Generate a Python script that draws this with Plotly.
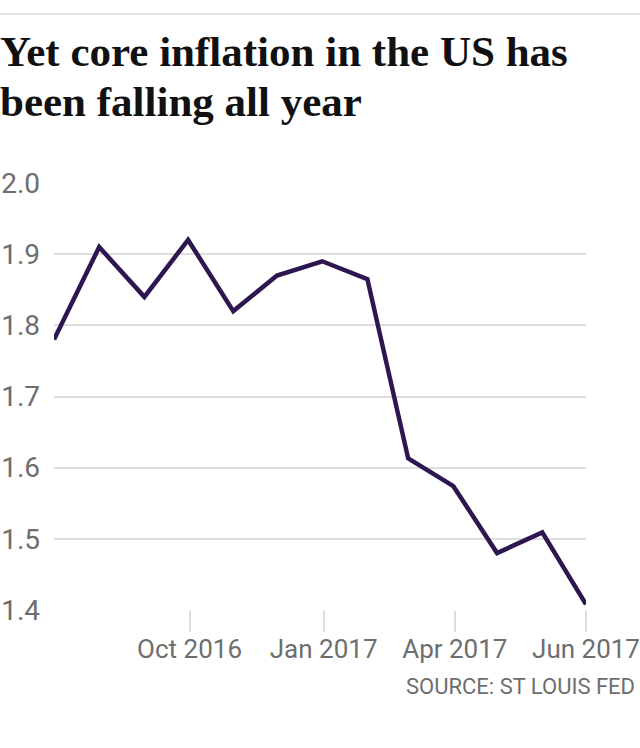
import plotly.graph_objects as go

dates = ["2016-06-30", "2016-07-31", "2016-08-31", "2016-09-30", "2016-10-31",
         "2016-11-30", "2016-12-31", "2017-01-31", "2017-02-28", "2017-03-31",
         "2017-04-30", "2017-05-31", "2017-06-30"]
core_inflation = [1.78, 1.91, 1.84, 1.92, 1.82, 1.87, 1.89, 1.865, 1.613, 1.574, 1.48, 1.509, 1.408]
tick_dates = ["2016-10-01", "2017-01-01", "2017-04-01", "2017-06-30"]
tick_labels = ["Oct 2016", "Jan 2017", "Apr 2017", "Jun 2017"]
y_ticks = [1.4, 1.5, 1.6, 1.7, 1.8, 1.9, 2.0]
y_labels = ["1.4", "1.5", "1.6", "1.7", "1.8", "1.9", "2.0"]

title_lines = ["Yet core inflation in the US has", "been falling all year"]
source_text = "SOURCE: ST LOUIS FED"

W, H = 640, 748
ML, MR, MT, MB = 54, 54, 183, 138
pw = W - ML - MR
ph = H - MT - MB


def px_x(x):
    return (x - ML) / pw


def px_y(y):
    return (H - MB - y) / ph


grey = "#6e6e6e"
title_font = dict(family="Liberation Serif, serif", size=43, color="#111111", weight="bold")

fig = go.Figure()
fig.add_trace(go.Scatter(
    x=dates, y=core_inflation, mode="lines",
    line=dict(color="#2e1650", width=4.5),
    hoverinfo="skip", showlegend=False,
))

annotations = []
for i, line in enumerate(title_lines):
    annotations.append(dict(
        text=line, xref="paper", yref="paper",
        x=px_x(-2), y=px_y(26 + 50 * i),
        xanchor="left", yanchor="top", showarrow=False,
        font=title_font,
    ))
annotations.append(dict(
    text=source_text, xref="paper", yref="paper",
    x=px_x(637), y=px_y(686),
    xanchor="right", yanchor="middle", showarrow=False,
    font=dict(family="Roboto, sans-serif", size=22, color=grey),
))

fig.update_layout(
    width=W, height=H,
    margin=dict(l=ML, r=MR, t=MT, b=MB, autoexpand=False),
    paper_bgcolor="white", plot_bgcolor="white",
    xaxis=dict(
        type="date", range=[dates[0], dates[-1]],
        tickvals=tick_dates, ticktext=tick_labels,
        showgrid=False, zeroline=False, showline=False, automargin=False,
        ticks="outside", ticklen=21, tickwidth=2, tickcolor="#dddddd",
        ticklabelstandoff=-5,
        tickfont=dict(family="Roboto, sans-serif", size=26, color=grey),
    ),
    yaxis=dict(
        range=[1.4, 2.0], tickvals=y_ticks, ticktext=y_labels,
        showgrid=True, gridcolor="#dddddd", gridwidth=2,
        zeroline=False, showline=False, ticks="", automargin=False,
        ticklabelstandoff=13,
        tickfont=dict(family="Roboto, sans-serif", size=28, color=grey),
    ),
    shapes=[dict(
        type="line", xref="paper", yref="paper",
        x0=px_x(0), x1=px_x(W),
        y0=px_y(14), y1=px_y(14),
        line=dict(color="#e3e3e3", width=2),
    )],
    annotations=annotations,
)

fig.write_html(
    "out.html",
    config={"displayModeBar": False},
    post_script="document.body.style.margin='0';document.body.style.overflow='hidden';",
)
